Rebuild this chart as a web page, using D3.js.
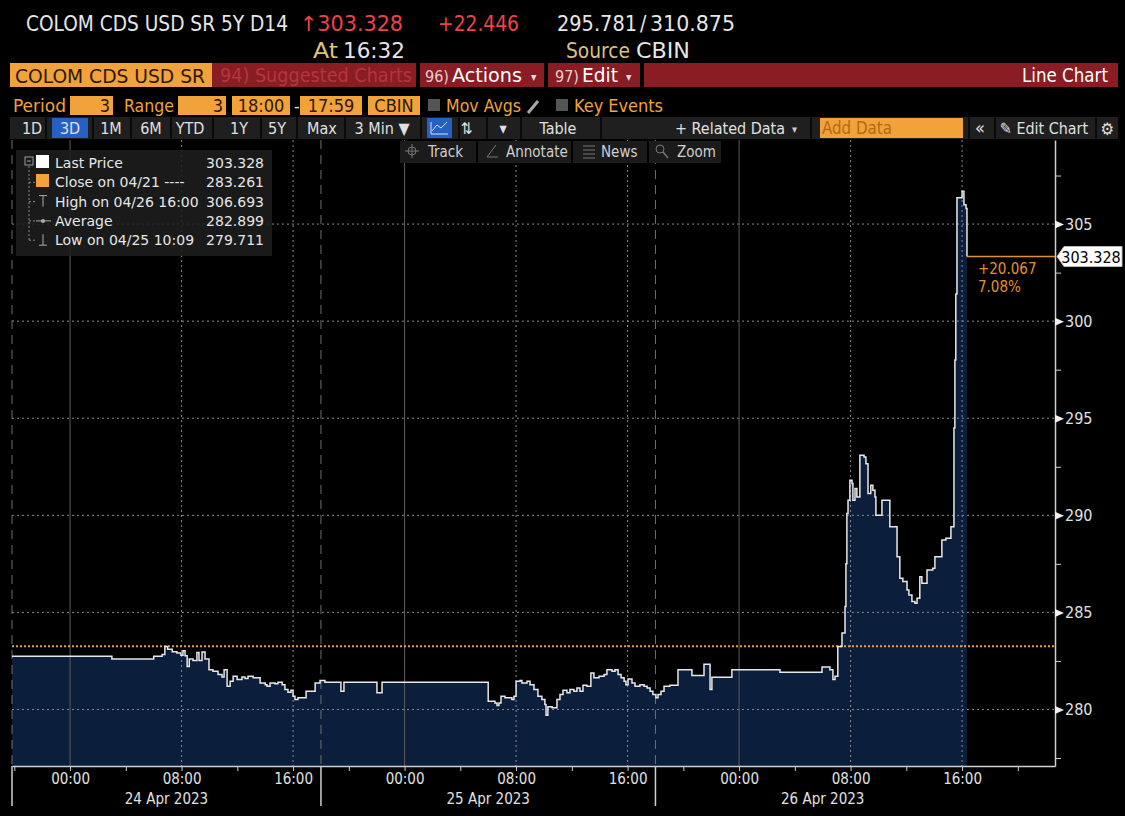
<!DOCTYPE html>
<html>
<head>
<meta charset="utf-8">
<script src="https://cdn.jsdelivr.net/npm/d3@7"></script>
<style>
  body { margin: 0; background: #000; }
  svg text { font-family: "DejaVu Sans Condensed", "DejaVu Sans", sans-serif; font-stretch: condensed; }
  .legend text { font-family: "DejaVu Sans", sans-serif; font-stretch: normal; }
</style>
</head>
<body>
<div id="chart"></div>
<script>
// price series, 3 min bars (step changes kept)
const times = [
  "04/23 19:50", "04/24 03:00", "04/24 06:00", "04/24 06:36", "04/24 06:48", "04/24 07:00", "04/24 07:20",
  "04/24 07:40", "04/24 07:57", "04/24 08:06", "04/24 08:15", "04/24 08:24", "04/24 08:33", "04/24 08:49",
  "04/24 09:06", "04/24 09:15", "04/24 09:28", "04/24 09:41", "04/24 09:58", "04/24 10:15", "04/24 10:37",
  "04/24 10:54", "04/24 11:03", "04/24 11:16", "04/24 11:29", "04/24 11:42", "04/24 11:59", "04/24 12:20",
  "04/24 12:33", "04/24 12:46", "04/24 13:08", "04/24 13:38", "04/24 14:00", "04/24 14:08", "04/24 14:21",
  "04/24 14:42", "04/24 14:55", "04/24 15:13", "04/24 15:25", "04/24 15:38", "04/24 15:51", "04/24 16:00",
  "04/24 16:08", "04/24 16:21", "04/24 16:56", "04/24 17:35", "04/24 17:56", "04/24 18:17", "04/24 19:26",
  "04/24 19:39", "04/24 22:01", "04/24 22:23", "04/25 06:00", "04/25 06:29", "04/25 06:38", "04/25 06:46",
  "04/25 06:55", "04/25 07:12", "04/25 07:42", "04/25 07:51", "04/25 08:00", "04/25 08:17", "04/25 08:25",
  "04/25 08:47", "04/25 09:00", "04/25 09:17", "04/25 09:34", "04/25 09:51", "04/25 10:04", "04/25 10:09",
  "04/25 10:17", "04/25 10:35", "04/25 10:56", "04/25 11:09", "04/25 11:22", "04/25 11:39", "04/25 11:52",
  "04/25 12:09", "04/25 12:22", "04/25 12:35", "04/25 12:48", "04/25 13:05", "04/25 13:22", "04/25 13:35",
  "04/25 13:57", "04/25 14:19", "04/25 14:31", "04/25 14:53", "04/25 15:06", "04/25 15:19", "04/25 15:32",
  "04/25 15:45", "04/25 15:53", "04/25 16:02", "04/25 16:19", "04/25 16:32", "04/25 16:53", "04/25 17:11",
  "04/25 17:24", "04/25 17:37", "04/25 17:49", "04/25 18:02", "04/25 18:11", "04/25 18:24", "04/25 18:37",
  "04/25 19:02", "04/25 19:37", "04/25 20:37", "04/25 21:29", "04/25 21:55", "04/25 22:03", "04/25 23:29",
  "04/26 02:56", "04/26 05:57", "04/26 06:31", "04/26 06:44", "04/26 06:53", "04/26 07:05", "04/26 07:23",
  "04/26 07:36", "04/26 07:40", "04/26 07:44", "04/26 07:49", "04/26 07:57", "04/26 08:06", "04/26 08:10",
  "04/26 08:19", "04/26 08:27", "04/26 08:40", "04/26 08:58", "04/26 09:06", "04/26 09:15", "04/26 09:27",
  "04/26 09:36", "04/26 09:45", "04/26 09:49", "04/26 10:15", "04/26 10:49", "04/26 11:20", "04/26 11:32",
  "04/26 11:45", "04/26 12:03", "04/26 12:11", "04/26 12:24", "04/26 12:37", "04/26 12:46", "04/26 12:58",
  "04/26 13:07", "04/26 13:29", "04/26 13:54", "04/26 14:03", "04/26 14:33", "04/26 14:50", "04/26 15:12",
  "04/26 15:25", "04/26 15:29", "04/26 15:33", "04/26 15:38", "04/26 16:00", "04/26 16:08", "04/26 16:17",
  "04/26 16:21"
];
const prices = [
  282.74, 282.60, 282.74, 282.83, 283.25, 283.10, 282.98,
  282.91, 282.80, 283.03, 282.77, 282.22, 282.60, 282.52,
  282.94, 282.52, 282.96, 282.60, 282.05, 281.97, 281.80,
  281.68, 282.05, 281.20, 281.45, 281.71, 281.54, 281.68,
  281.59, 281.71, 281.63, 281.37, 281.28, 281.20, 281.37,
  281.33, 281.40, 281.28, 281.03, 280.89, 280.99, 280.68,
  280.51, 280.60, 280.94, 281.37, 281.49, 281.40, 280.94,
  281.40, 280.86, 281.40, 280.43, 280.34, 280.21, 280.34,
  280.68, 280.60, 280.51, 280.68, 281.45, 281.49, 281.37,
  281.45, 281.28, 281.03, 280.68, 280.51, 280.26, 279.71,
  280.14, 280.09, 280.51, 280.77, 280.99, 280.86, 281.03,
  280.94, 281.11, 280.94, 281.25, 281.20, 281.88, 281.63,
  281.71, 281.80, 282.05, 281.97, 282.05, 281.80, 281.63,
  281.45, 281.28, 281.57, 281.37, 281.20, 281.28, 281.20,
  281.11, 280.94, 280.77, 280.60, 280.77, 280.94, 281.20,
  281.25, 282.05, 281.75, 282.33, 281.03, 281.66, 282.05,
  281.92, 282.19, 282.05, 281.54, 281.71, 283.25, 283.94,
  285.30, 287.50, 290.10, 290.78, 291.81, 291.64, 290.78,
  291.38, 290.95, 293.09, 293.00, 292.66, 291.12, 291.55,
  291.29, 290.95, 290.01, 290.78, 289.41, 287.87, 286.76,
  286.59, 286.16, 285.90, 285.56, 285.47, 285.73, 286.84,
  286.50, 287.19, 287.27, 287.87, 288.73, 288.82, 289.41,
  294.50, 298.00, 301.40, 306.35, 306.69, 306.00, 305.80,
  303.33
];

const xDomain = ["04/23 19:50", "04/26 22:40"];
const yDomain = [277.09, 309.33];
const yTicks = [280, 285, 290, 295, 300, 305];
const yMinorTicks = [277.5, 282.5, 287.5, 292.5, 297.5, 302.5, 307.5];
const timeLabels = ["04/24 00:00", "04/24 08:00", "04/24 16:00", "04/25 00:00", "04/25 08:00",
  "04/25 16:00", "04/26 00:00", "04/26 08:00", "04/26 16:00"];
const sessions = [["04/23 18:00", "04/24 18:00"], ["04/24 18:00", "04/25 18:00"], ["04/25 18:00", "04/26 18:00"]];
const sessionLabels = ["24 Apr 2023", "25 Apr 2023", "26 Apr 2023"];

const closePrice = 283.261;
const lastPrice = 303.328;
const change = "+20.067";
const changePct = "7.08%";

const legendLabels = ["Last Price", "Close on 04/21 ----", "High on 04/26 16:00", "Average", "Low on 04/25 10:09"];
const legendValues = ["303.328", "283.261", "306.693", "282.899", "279.711"];

const width = 1125;
const height = 816;
const plot = { left: 12, right: 1055, top: 140, bottom: 766 };

const orange = "#f2a23a";
const red = "#f0424c";
const tan = "#dcc27c";

const parse = d3.timeParse("%Y/%m/%d %H:%M");
const T = s => parse("2023/" + s);
const data = times.map((t, i) => ({ t: T(t), v: prices[i] }));

const svg = d3.select("#chart")
  .append("svg")
  .attr("width", width)
  .attr("height", height)
  .style("display", "block")
  .style("background", "#000");

function label(g, x, y, s, o = {}) {
  const t = g.append("text")
    .attr("x", x).attr("y", y)
    .attr("fill", o.fill || "#e6e6e6")
    .attr("font-size", o.size || 17)
    .attr("text-anchor", o.anchor || "start")
    .text(s);
  if (o.w) t.attr("textLength", o.w).attr("lengthAdjust", "spacingAndGlyphs");
  return t;
}

const x = d3.scaleTime().domain(xDomain.map(T)).range([plot.left, plot.right]);
const y = d3.scaleLinear().domain(yDomain).range([plot.bottom, plot.top]);

// ---- plot ----
const area = d3.area()
  .curve(d3.curveStepAfter)
  .x(d => x(d.t))
  .y0(plot.bottom)
  .y1(d => y(d.v));

const line = d3.line()
  .curve(d3.curveStepAfter)
  .x(d => x(d.t))
  .y(d => y(d.v));

svg.append("path").datum(data).attr("d", area).attr("fill", "#0b1e3b");

const grid = svg.append("g");
grid.selectAll(".hgrid").data(yTicks).join("line")
  .attr("x1", plot.left).attr("x2", plot.right)
  .attr("y1", d => y(d)).attr("y2", d => y(d))
  .attr("stroke", "#8a8a8a").attr("stroke-dasharray", "2,3");

grid.selectAll(".vgrid").data(timeLabels.map(T)).join("line")
  .attr("x1", d => x(d)).attr("x2", d => x(d))
  .attr("y1", plot.top).attr("y2", plot.bottom)
  .attr("stroke", d => d.getHours() === 0 ? "#5c5c5c" : "#8a8a8a")
  .attr("stroke-dasharray", d => d.getHours() === 0 ? null : "2,3");

const seps = [plot.left].concat(sessions.slice(1).map(s => x(T(s[0]))));
grid.selectAll(".sep").data(seps).join("line")
  .attr("x1", d => d).attr("x2", d => d)
  .attr("y1", plot.top).attr("y2", plot.bottom)
  .attr("stroke", "#6e6e6e").attr("stroke-dasharray", "9,6");

svg.append("line")
  .attr("x1", plot.left).attr("x2", plot.right)
  .attr("y1", y(closePrice)).attr("y2", y(closePrice))
  .attr("stroke", "#e8a03c").attr("stroke-width", 2).attr("stroke-dasharray", "2,2");

svg.append("path").datum(data).attr("d", line)
  .attr("fill", "none").attr("stroke", "#e8e8e8").attr("stroke-width", 1.5);

// last price marker
const last = data[data.length - 1];
svg.append("line")
  .attr("x1", x(last.t)).attr("x2", plot.right)
  .attr("y1", y(lastPrice)).attr("y2", y(lastPrice))
  .attr("stroke", "#e0922c").attr("stroke-width", 1.5);
label(svg, x(last.t) + 11, y(lastPrice) + 17, change, { fill: "#e0922c", size: 15 });
label(svg, x(last.t) + 11, y(lastPrice) + 35, changePct, { fill: "#e0922c", size: 15 });

// ---- right axis ----
const yAxis = svg.append("g").attr("transform", `translate(${plot.right},0)`);
yAxis.call(d3.axisRight(y).tickValues(yMinorTicks).tickSize(6).tickSizeOuter(0).tickFormat(""));
yAxis.select(".domain").attr("stroke", "#cfcfcf").attr("stroke-width", 1.5);
yAxis.selectAll(".tick line").attr("stroke", "#cfcfcf");

const yLab = svg.append("g").attr("transform", `translate(${plot.right},0)`);
yLab.call(d3.axisRight(y).tickValues(yTicks).tickSize(0).tickPadding(10).tickFormat(d3.format("d")));
yLab.select(".domain").remove();
yLab.selectAll(".tick text").attr("fill", "#e0e0e0").attr("font-size", 16)
  .attr("font-family", '"DejaVu Sans Condensed", "DejaVu Sans", sans-serif');
yLab.selectAll(".tick").append("path").attr("d", "M0,-4L9,0L0,4Z").attr("fill", "#f0f0f0");

const tagY = y(lastPrice);
svg.append("path")
  .attr("d", `M${plot.right + 2},${tagY}L${plot.right + 9},${tagY - 10}L1122,${tagY - 10}L1122,${tagY + 10}L${plot.right + 9},${tagY + 10}Z`)
  .attr("fill", "#fff").attr("stroke", "#bbb");
label(svg, 1091, tagY + 6, d3.format(".3f")(lastPrice), { fill: "#000", size: 16, anchor: "middle" });

// ---- bottom axis ----
const minorX = d3.timeHour.every(4).range(T("04/23 20:00"), T("04/26 21:00"));
const xAxis = svg.append("g").attr("transform", `translate(0,${plot.bottom})`);
xAxis.call(d3.axisBottom(x).tickValues(minorX).tickSize(5).tickSizeOuter(0).tickFormat(""));
xAxis.select(".domain").attr("stroke", "#cfcfcf").attr("stroke-width", 1.5);
xAxis.selectAll(".tick line").attr("stroke", "#cfcfcf");

const xLab = svg.append("g").attr("transform", `translate(0,${plot.bottom})`);
xLab.call(d3.axisBottom(x).tickValues(timeLabels.map(T)).tickSize(0).tickPadding(7)
  .tickFormat(d3.timeFormat("%H:%M")));
xLab.select(".domain").remove();
xLab.selectAll(".tick text").attr("fill", "#e0e0e0").attr("font-size", 15)
  .attr("font-family", '"DejaVu Sans Condensed", "DejaVu Sans", sans-serif');

svg.selectAll(".longtick").data(seps).join("line")
  .attr("x1", d => d).attr("x2", d => d)
  .attr("y1", plot.bottom).attr("y2", plot.bottom + 40)
  .attr("stroke", "#cfcfcf").attr("stroke-width", 1.5);

sessions.forEach((s, i) => {
  const a = Math.max(x(T(s[0])), plot.left);
  const b = Math.min(x(T(s[1])), plot.right);
  label(svg, (a + b) / 2, plot.bottom + 38, sessionLabels[i], { size: 15, anchor: "middle", fill: "#e0e0e0" });
});

// ---- legend ----
const lg = svg.append("g").attr("class", "legend");
lg.append("rect").attr("x", 16).attr("y", 150).attr("width", 256).attr("height", 106)
  .attr("fill", "rgba(30,30,30,0.88)");
const rowY = d3.range(legendLabels.length).map(i => 168 + i * 19.3);
lg.append("line").attr("x1", 29).attr("x2", 29).attr("y1", 166).attr("y2", rowY[4] - 4)
  .attr("stroke", "#888").attr("stroke-dasharray", "2,2");
rowY.slice(1).forEach(ry => {
  lg.append("line").attr("x1", 29).attr("x2", 35).attr("y1", ry - 5).attr("y2", ry - 5)
    .attr("stroke", "#888").attr("stroke-dasharray", "2,2");
});
lg.append("rect").attr("x", 25).attr("y", 157).attr("width", 8).attr("height", 8)
  .attr("fill", "none").attr("stroke", "#999");
lg.append("line").attr("x1", 27).attr("x2", 31).attr("y1", 161).attr("y2", 161).attr("stroke", "#999");
lg.append("rect").attr("x", 36).attr("y", 155).attr("width", 13).attr("height", 13).attr("fill", "#fff");
lg.append("rect").attr("x", 36).attr("y", 174).attr("width", 13).attr("height", 13).attr("fill", orange);
// high / avg / low glyphs
lg.append("path").attr("d", `M39,${rowY[2] - 11}H47M43,${rowY[2] - 11}V${rowY[2]}`).attr("stroke", "#aaa").attr("fill", "none");
lg.append("path").attr("d", `M36,${rowY[3] - 5}H51`).attr("stroke", "#aaa");
lg.append("circle").attr("cx", 43).attr("cy", rowY[3] - 5).attr("r", 2).attr("fill", "#aaa");
lg.append("path").attr("d", `M39,${rowY[4]}H47M43,${rowY[4]}V${rowY[4] - 11}`).attr("stroke", "#aaa").attr("fill", "none");

legendLabels.forEach((s, i) => {
  label(lg, 55, rowY[i], s, { size: 14, fill: "#e6e6e6" });
  label(lg, 264, rowY[i], legendValues[i], { size: 14, fill: "#e6e6e6", anchor: "end" });
});

// ---- top bars ----
const hdr = svg.append("g");
label(hdr, 26, 31, "COLOM CDS USD SR 5Y D14", { size: 21, w: 262 });
label(hdr, 300, 31, "\u2191303.328", { size: 21, fill: red, w: 103 });
label(hdr, 438, 31, "+22.446", { size: 21, fill: red, w: 81 });
label(hdr, 557, 31, "295.781", { size: 21, w: 80 });
label(hdr, 640, 31, "/", { size: 21 });
label(hdr, 650, 31, "310.875", { size: 21, w: 85 });
label(hdr, 313, 58, "At", { size: 21, fill: tan, w: 25 });
label(hdr, 343, 58, "16:32", { size: 21, w: 62 });
label(hdr, 566, 58, "Source", { size: 21, fill: tan, w: 64 });
label(hdr, 636, 58, "CBIN", { size: 21, w: 54 });

hdr.append("rect").attr("x", 10).attr("y", 63).attr("width", 202).attr("height", 24).attr("fill", orange);
label(hdr, 15, 83, "COLOM CDS USD SR", { size: 20, fill: "#2a1800", w: 190 });
hdr.append("rect").attr("x", 212).attr("y", 63).attr("width", 906).attr("height", 24).attr("fill", "#8a1c23");
[416, 544, 640].forEach(d => hdr.append("rect").attr("x", d).attr("y", 63).attr("width", 4).attr("height", 24).attr("fill", "#000"));
label(hdr, 220, 82, "94) Suggested Charts", { size: 19, fill: "#b2373e", w: 192 });
label(hdr, 425, 82, "96)", { size: 15, fill: "#eccfd0", w: 24 });
label(hdr, 452, 82, "Actions", { size: 20, fill: "#fff", w: 70 });
label(hdr, 531, 81, "\u25BE", { size: 12, fill: "#ddd" });
label(hdr, 555, 82, "97)", { size: 15, fill: "#eccfd0", w: 24 });
label(hdr, 582, 82, "Edit", { size: 20, fill: "#fff", w: 36 });
label(hdr, 626, 81, "\u25BE", { size: 12, fill: "#ddd" });
label(hdr, 1108, 82, "Line Chart", { size: 20, fill: "#fff", anchor: "end", w: 86 });

// period row
label(hdr, 13, 112, "Period", { size: 18, fill: orange, w: 53 });
label(hdr, 124, 112, "Range", { size: 18, fill: orange, w: 50 });
[[70, 43, "3", "end"], [178, 48, "3", "end"], [232, 58, "18:00", "middle"], [300, 62, "17:59", "middle"], [368, 52, "CBIN", "middle"]]
  .forEach(([bx, bw, s, anc]) => {
    hdr.append("rect").attr("x", bx).attr("y", 96).attr("width", bw).attr("height", 19).attr("fill", orange);
    label(hdr, anc === "end" ? bx + bw - 3 : bx + bw / 2, 112, s, { size: 18, fill: "#2a1800", anchor: anc });
  });
label(hdr, 294, 112, "-", { size: 18, fill: "#ddd" });
hdr.append("rect").attr("x", 428).attr("y", 99).attr("width", 12).attr("height", 12).attr("fill", "#555");
label(hdr, 446, 112, "Mov Avgs", { size: 18, fill: orange, w: 75 });
hdr.append("path").attr("d", "M528,113L538,101").attr("stroke", "#aaa").attr("stroke-width", 3);
hdr.append("rect").attr("x", 556).attr("y", 99).attr("width", 12).attr("height", 12).attr("fill", "#555");
label(hdr, 574, 112, "Key Events", { size: 18, fill: orange, w: 89 });

// toolbar row
hdr.append("rect").attr("x", 10).attr("y", 117).attr("width", 1108).attr("height", 22).attr("fill", "#1f1f1f");
[45, 92, 130, 170, 212, 260, 296, 344, 420, 458, 486, 520, 600, 810, 968, 994, 1095]
  .forEach(d => hdr.append("rect").attr("x", d).attr("y", 117).attr("width", 2).attr("height", 22).attr("fill", "#0a0a0a"));
hdr.append("rect").attr("x", 52).attr("y", 118).attr("width", 36).attr("height", 20).attr("fill", "#2560c2");
hdr.append("rect").attr("x", 427).attr("y", 118).attr("width", 25).attr("height", 20).attr("fill", "#2560c2");
hdr.append("path").attr("d", "M431,134V122M431,134H448M432,131L437,125L441,128L447,122")
  .attr("stroke", "#cfe0ff").attr("fill", "none");
[["1D", 32], ["3D", 70], ["1M", 111], ["6M", 151], ["YTD", 190], ["1Y", 239], ["5Y", 277], ["Max", 322],
 ["3 Min \u25BC", 382], ["\u21C5", 467], ["\u25BE", 503], ["Table", 558]]
  .forEach(([s, cx]) => label(hdr, cx, 134, s, { size: 16, fill: "#e0e0e0", anchor: "middle" }));
label(hdr, 675, 134, "+ Related Data", { size: 16, fill: "#e0e0e0", w: 110 });
label(hdr, 792, 133, "\u25BE", { size: 11, fill: "#ccc" });
hdr.append("rect").attr("x", 820).attr("y", 118).attr("width", 143).attr("height", 20).attr("fill", orange);
label(hdr, 822, 134, "Add Data", { size: 17, fill: "#b36a12", w: 70 });
label(hdr, 980, 134, "\u00AB", { size: 18, fill: "#e0e0e0", anchor: "middle" });
label(hdr, 1000, 134, "\u270E Edit Chart", { size: 16, fill: "#e0e0e0", w: 88 });
label(hdr, 1107, 135, "\u2699", { size: 17, fill: "#e0e0e0", anchor: "middle" });

// chart tools row
const chips = [[400, 76, "Track"], [478, 93, "Annotate"], [573, 74, "News"], [649, 72, "Zoom"]];
chips.forEach(([cx, cw, s]) => {
  hdr.append("rect").attr("x", cx).attr("y", 141).attr("width", cw).attr("height", 22).attr("fill", "#1b1b1b");
  label(hdr, cx + 28, 157, s, { size: 15, fill: "#cfcfcf" });
});
hdr.append("circle").attr("cx", 412).attr("cy", 151).attr("r", 4).attr("fill", "none").attr("stroke", "#777");
hdr.append("path").attr("d", "M412,144V158M405,151H419").attr("stroke", "#777");
hdr.append("path").attr("d", "M496,145L487,157H498").attr("stroke", "#777").attr("fill", "none");
hdr.append("path").attr("d", "M583,146H595M583,150H595M583,154H595M583,158H595").attr("stroke", "#777");
hdr.append("circle").attr("cx", 660).attr("cy", 149).attr("r", 4).attr("fill", "none").attr("stroke", "#777");
hdr.append("path").attr("d", "M663,152L668,158").attr("stroke", "#777").attr("stroke-width", 1.5);
</script>
</body>
</html>
